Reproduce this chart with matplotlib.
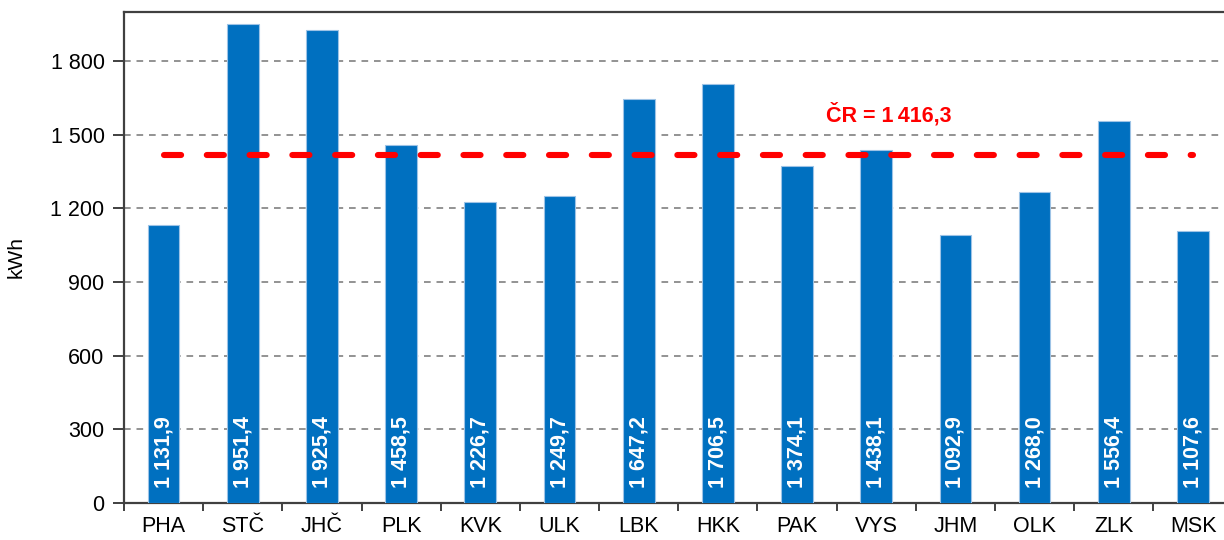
import numpy as np
import matplotlib.pyplot as plt
from matplotlib.ticker import FixedLocator, FuncFormatter

plt.rcParams['font.family'] = ['Liberation Sans', 'DejaVu Sans']

regions = ['PHA', 'STČ', 'JHČ', 'PLK', 'KVK', 'ULK', 'LBK', 'HKK',
           'PAK', 'VYS', 'JHM', 'OLK', 'ZLK', 'MSK']
values = [1131.9, 1951.4, 1925.4, 1458.5, 1226.7, 1249.7, 1647.2, 1706.5,
          1374.1, 1438.1, 1092.9, 1268.0, 1556.4, 1107.6]
cr_value = 1416.3


def fmt_cz(v, dec=1):
    s = f"{v:,.{dec}f}"
    return s.replace(',', ' ').replace('.', ',')


fig = plt.figure(figsize=(12.24, 5.4), dpi=100)
ax = fig.add_axes([124 / 1224, 1 - 503 / 540, 1108.6 / 1224, 491 / 540])

x = np.arange(len(regions))
bars = ax.bar(x, values, width=0.4, color='#0070C0', edgecolor='#9DC3E6',
              linewidth=0.8, zorder=3)

for xi, v in zip(x, values):
    ax.text(xi, 62, fmt_cz(v), rotation=90, ha='center', va='bottom',
            color='white', fontsize=15.5, fontweight='bold', zorder=4)

# republic average
ax.plot([x[0], x[-1]], [cr_value, cr_value], color='#FF0000', lw=4.4,
        dashes=(2.8, 4.2), dash_capstyle='round', zorder=5)
ax.text(8.37, 1582, 'ČR = ' + fmt_cz(cr_value).replace(' ', '\u2009'),
        color='#FF0000', fontsize=15.5, fontweight='bold', ha='left',
        va='center', zorder=6)

ax.set_xlim(-0.5, len(regions) - 0.5)
ax.set_ylim(0, 2000)
ax.yaxis.set_major_locator(FixedLocator([0, 300, 600, 900, 1200, 1500, 1800]))
ax.yaxis.set_major_formatter(FuncFormatter(lambda v, p: fmt_cz(v, 0)))
ax.set_xticks(x)
ax.set_xticklabels(regions)
ax.set_xticks(np.arange(-0.5, len(regions)), minor=True)
ax.tick_params(axis='x', which='major', length=0, pad=9, labelsize=15.5)
ax.tick_params(axis='x', which='minor', length=6, width=1.4, color='#404040',
               direction='out')
ax.tick_params(axis='y', length=8, width=1.4, color='#404040', pad=6,
               labelsize=15.5)
ax.set_ylabel('kWh', fontsize=15, labelpad=18)

ax.grid(axis='y', color='#808080', lw=1.2, dashes=(4, 3.5), zorder=0)
ax.set_axisbelow(True)
for s in ['left', 'top', 'bottom', 'right']:
    ax.spines[s].set_color('#404040')
    ax.spines[s].set_linewidth(1.6)

fig.savefig('out.png', dpi=100)
